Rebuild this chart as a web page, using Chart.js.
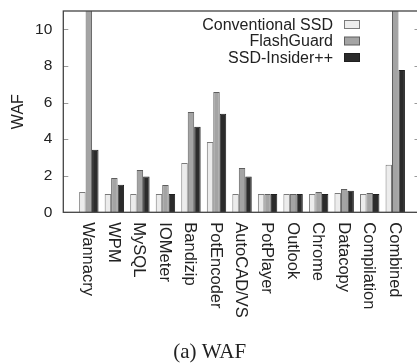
<!DOCTYPE html>
<html>
<head>
<meta charset="utf-8">
<script src="https://cdn.jsdelivr.net/npm/chart.js@4"></script>
<style>
  html, body { margin: 0; padding: 0; background: #fff; overflow: hidden; }
  #wrap { width: 424px; height: 364px; }
</style>
</head>
<body>
<div id="wrap"><canvas id="chart" width="424" height="364"></canvas></div>
<script>
const workloads = ["Wannacry", "WPM", "MySQL", "IOMeter", "Bandizip", "PotEncoder", "AutoCAD/VS",
  "PotPlayer", "Outlook", "Chrome", "Datacopy", "Compilation", "Combined"];
const conventionalSsd = [1.11, 1.0, 1.0, 1.0, 2.69, 3.84, 1.0, 1.0, 1.0, 1.0, 1.06, 1.0, 2.6];
// the two FlashGuard bars that leave the frame are cut off in the figure
const flashGuard = [13.5, 1.88, 2.31, 1.49, 5.48, 6.58, 2.42, 1.0, 1.0, 1.11, 1.28, 1.06, 13.5];
const ssdInsider = [3.42, 1.51, 1.95, 1.0, 4.68, 5.38, 1.95, 1.0, 1.0, 1.0, 1.18, 1.0, 7.78];
const yTicks = [0, 2, 4, 6, 8, 10];

const sans = "'Liberation Sans', Arial, sans-serif";
const ctx = document.getElementById("chart").getContext("2d");

function points(values) {
  return values.map((v, i) => ({ x: i, y: v }));
}

const framePlugin = {
  id: "frame",
  afterDatasetsDraw(chart) {
    const c = chart.ctx;
    const { left, right, top, bottom } = chart.chartArea;
    const y = chart.scales.y;
    const x = chart.scales.x;

    c.save();
    // inward tick marks on both sides
    c.strokeStyle = "#9a9a9a";
    c.lineWidth = 1;
    y.ticks.forEach((t) => {
      const py = Math.round(y.getPixelForValue(t.value)) + 0.5;
      c.beginPath();
      c.moveTo(left, py);
      c.lineTo(left + 5, py);
      c.moveTo(right - 5, py);
      c.lineTo(right, py);
      c.stroke();
    });

    // frame
    c.strokeStyle = "#444";
    c.lineWidth = 1.3;
    c.strokeRect(left, top, right - left, bottom - top);

    // category labels, turned to read downwards
    c.fillStyle = "#222";
    c.font = "16.5px " + sans;
    c.textAlign = "left";
    c.textBaseline = "middle";
    x.ticks.forEach((t) => {
      c.save();
      c.translate(x.getPixelForValue(t.value) - 1, bottom + 10);
      c.rotate(Math.PI / 2);
      c.fillText(workloads[t.value], 0, 0);
      c.restore();
    });

    // legend, text on the left and key on the right
    c.font = "16px " + sans;
    c.textAlign = "right";
    chart.data.datasets.forEach((ds, i) => {
      const cy = 24.5 + i * 16.5;
      c.fillStyle = "#222";
      c.fillText(ds.label, 333, cy + 1);
      c.fillStyle = ds.backgroundColor;
      c.fillRect(344.5, cy - 4, 15, 8);
      c.strokeStyle = ds.borderColor;
      c.lineWidth = 1;
      c.strokeRect(344.5, cy - 4, 15, 8);
    });
    c.restore();
  },
};

new Chart(ctx, {
  type: "bar",
  data: {
    datasets: [
      {
        label: "Conventional SSD",
        data: points(conventionalSsd),
        backgroundColor: "#ececec",
        borderColor: "#7a7a7a",
        borderWidth: 1,
      },
      {
        label: "FlashGuard",
        data: points(flashGuard),
        backgroundColor: "#a4a4a4",
        borderColor: "#5e5e5e",
        borderWidth: 1,
      },
      {
        label: "SSD-Insider++",
        data: points(ssdInsider),
        backgroundColor: "#2b2b2b",
        borderColor: "#1f1f1f",
        borderWidth: 1,
      },
    ],
  },
  options: {
    responsive: false,
    animation: false,
    devicePixelRatio: 1,
    categoryPercentage: 0.76,
    barPercentage: 1.0,
    layout: { padding: { top: 11, left: 0, right: 4.5, bottom: 0 } },
    plugins: {
      legend: { display: false },
      tooltip: { enabled: false },
      title: {
        display: true,
        position: "bottom",
        text: "(a) WAF",
        color: "#222",
        font: { family: "'Liberation Serif', 'Times New Roman', serif", size: 21, weight: "normal", lineHeight: 1.0 },
        padding: { top: 0, bottom: 1.5 },
      },
    },
    scales: {
      x: {
        type: "linear",
        offset: false,
        min: -1,
        max: 12.95,
        grid: { display: false, drawTicks: false, offset: false },
        border: { display: false },
        ticks: { display: false },
        afterBuildTicks: (s) => {
          s.ticks = workloads.map((w, i) => ({ value: i }));
        },
        afterFit: (s) => {
          s.height = 129.2;
          s.paddingLeft = 0;
          s.paddingRight = 0;
        },
      },
      y: {
        min: 0,
        max: 11,
        grid: { display: false, drawTicks: false },
        border: { display: false },
        afterBuildTicks: (s) => {
          s.ticks = yTicks.map((v) => ({ value: v }));
        },
        ticks: {
          color: "#222",
          padding: 11,
          font: { family: sans, size: 15.5 },
        },
        title: {
          display: true,
          text: "WAF",
          color: "#222",
          font: { family: sans, size: 16 },
          padding: { top: 9, bottom: 0 },
        },
        afterFit: (s) => {
          s.width = 63.3;
          s.paddingTop = 0;
          s.paddingBottom = 0;
        },
      },
    },
  },
  plugins: [framePlugin],
});
</script>
</body>
</html>
